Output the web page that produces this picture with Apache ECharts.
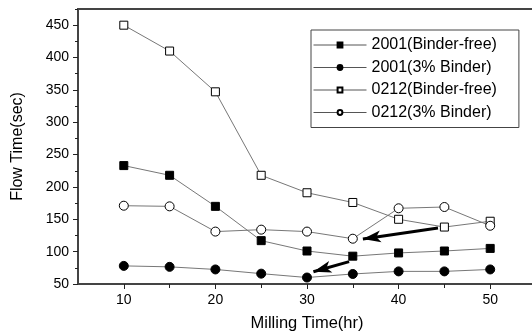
<!DOCTYPE html>
<html lang="en">
<head>
    <meta charset="UTF-8">
    <title>Flow Time vs Milling Time</title>
    <style>
        html, body {
            margin: 0;
            padding: 0;
            background: #ffffff;
        }
        #chart {
            width: 532px;
            height: 333px;
        }
    </style>
    <script src="https://cdn.jsdelivr.net/npm/echarts@6/dist/echarts.min.js"></script>
</head>
<body>
    <div id="chart"></div>
    <script>
        // milling time (hr)
        const millingTime = [10, 15, 20, 25, 30, 35, 40, 45, 50];

        // flow time (sec) for each sample
        const s2001BinderFree = [233, 218, 170, 117, 101, 93, 98, 101, 105];
        const s2001Binder3 = [78, 76.5, 72.5, 66, 60, 65.5, 69.5, 69.5, 72.5];
        const s0212BinderFree = [450, 410, 347, 218, 191, 176, 150, 138, 147];
        const s0212Binder3 = [171, 170, 131, 134, 131, 120, 167, 169, 140];

        const seriesNames = ['2001(Binder-free)', '2001(3% Binder)', '0212(Binder-free)', '0212(3% Binder)'];

        // axis ticks
        const xMajorTicks = [10, 20, 30, 40, 50];
        const xMinorTicks = [15, 25, 35, 45];
        const yMajorTicks = [50, 100, 150, 200, 250, 300, 350, 400, 450];

        // arrows [start, end] in data coords
        const arrowUpper = [[44.3, 136.5], [36.1, 119.5]];
        const arrowLower = [[34.6, 84.5], [30.7, 69]];

        const font = "'Liberation Sans', Arial, sans-serif";
        const ink = '#222';

        function lineSeries(name, values, symbol, filled) {
            return {
                name: name,
                type: 'line',
                data: millingTime.map((t, i) => [t, values[i]]),
                symbol: symbol,
                symbolSize: symbol === 'rect' ? 8 : 9,
                showSymbol: true,
                lineStyle: { color: '#777', width: 1 },
                itemStyle: {
                    color: filled ? '#000' : '#fff',
                    borderColor: '#000',
                    borderWidth: 1
                },
                emphasis: { disabled: true },
                z: 3
            };
        }

        const chart = echarts.init(document.getElementById('chart'));

        const series = [
            lineSeries(seriesNames[0], s2001BinderFree, 'rect', true),
            lineSeries(seriesNames[1], s2001Binder3, 'circle', true),
            lineSeries(seriesNames[2], s0212BinderFree, 'rect', false),
            lineSeries(seriesNames[3], s0212Binder3, 'circle', false)
        ];

        // the two arrows
        series[0].markLine = {
            silent: true,
            symbol: ['none', 'arrow'],
            symbolSize: [9, 18],
            label: { show: false },
            lineStyle: { color: '#000', width: 3, type: 'solid' },
            emphasis: { disabled: true },
            data: [
                [{ coord: arrowUpper[0] }, { coord: arrowUpper[1] }],
                [{ coord: arrowLower[0] }, { coord: arrowLower[1] }]
            ]
        };

        chart.setOption({
            animation: false,
            backgroundColor: '#fff',
            grid: {
                left: 78,
                top: 9,
                right: -4,
                bottom: 49,
                outerBoundsMode: 'none',
                containLabel: false,
                show: true,
                borderColor: '#444',
                borderWidth: 2,
                backgroundColor: 'transparent'
            },
            legend: {
                orient: 'vertical',
                left: 311,
                top: 30,
                data: seriesNames,
                itemWidth: 53,
                itemHeight: 6,
                itemGap: 6.5,
                padding: [7, 22, 7, 2],
                borderColor: '#444',
                borderWidth: 1,
                backgroundColor: '#fff',
                lineStyle: { color: '#555', width: 1 },
                textStyle: { fontFamily: font, fontSize: 16, color: '#000' },
                selectedMode: false
            },
            xAxis: [
                {
                    type: 'value',
                    min: 5,
                    max: 55,
                    name: 'Milling Time(hr)',
                    nameLocation: 'middle',
                    nameGap: 31,
                    nameTextStyle: { fontFamily: font, fontSize: 16.5, color: '#000' },
                    axisLine: { show: true, onZero: false, lineStyle: { color: '#444', width: 2 } },
                    axisTick: { show: true, length: 5, customValues: xMajorTicks, lineStyle: { color: ink } },
                    axisLabel: { customValues: xMajorTicks, fontFamily: font, fontSize: 14, color: '#000', margin: 9 },
                    splitLine: { show: false }
                },
                {
                    type: 'value',
                    min: 5,
                    max: 55,
                    position: 'bottom',
                    axisLine: { show: false },
                    axisTick: { show: true, length: 4, customValues: xMinorTicks, lineStyle: { color: ink } },
                    axisLabel: { show: false },
                    splitLine: { show: false }
                }
            ],
            yAxis: [
                {
                    type: 'value',
                    min: 50,
                    max: 475,
                    interval: 50,
                    name: 'Flow Time(sec)',
                    nameLocation: 'middle',
                    nameGap: 52,
                    nameTextStyle: { fontFamily: font, fontSize: 16, color: '#000' },
                    axisLine: { show: true, onZero: false, lineStyle: { color: '#444', width: 2 } },
                    axisTick: { show: true, length: 5, customValues: yMajorTicks, lineStyle: { color: ink } },
                    axisLabel: { customValues: yMajorTicks, fontFamily: font, fontSize: 14, color: '#000', margin: 9 },
                    splitLine: { show: false }
                },
                {
                    type: 'value',
                    min: 50,
                    max: 475,
                    interval: 25,
                    position: 'left',
                    axisLine: { show: false },
                    axisTick: { show: true, length: 3, lineStyle: { color: ink } },
                    axisLabel: { show: false },
                    splitLine: { show: false }
                }
            ],
            series: series
        });
    </script>
</body>
</html>
